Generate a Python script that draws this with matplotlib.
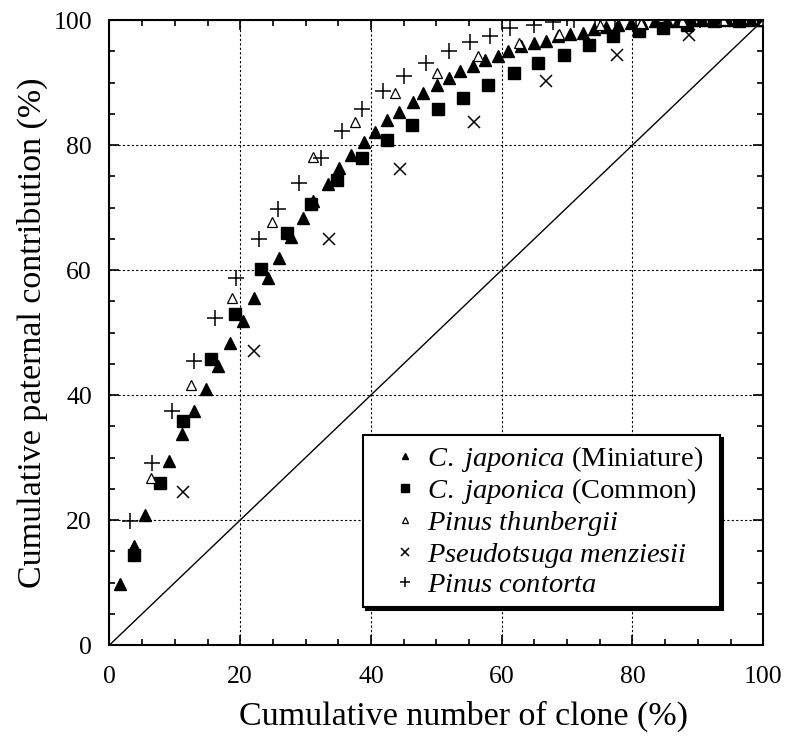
import matplotlib.pyplot as plt
from matplotlib.ticker import MultipleLocator

plt.rcParams['font.family'] = 'Liberation Serif'
plt.rcParams['mathtext.fontset'] = 'custom'
plt.rcParams['mathtext.rm'] = 'Liberation Serif'
plt.rcParams['mathtext.it'] = 'Liberation Serif:italic'

# C. japonica (Miniature)
mini_x = [1.6, 3.8, 5.5, 9.1, 11.1, 13.0, 14.7, 16.6, 18.4, 20.4, 22.1, 24.3, 25.9, 27.8,
          29.6, 31.2, 33.5, 35.1, 37.0, 39.0, 40.6, 42.5, 44.3, 46.4, 48.0, 50.1, 52.0,
          53.6, 55.6, 57.5, 59.4, 61.0, 62.9, 64.9, 66.7, 68.6, 70.4, 72.4, 74.1, 75.9,
          77.8, 79.7, 81.5, 83.5, 85.3, 87.0, 89.0, 90.7, 92.6, 94.4, 96.3, 98.1, 100.0]
mini_y = [9.7, 15.8, 20.8, 29.5, 33.7, 37.4, 41.0, 44.6, 48.3, 51.9, 55.5, 58.8, 62.0, 65.3,
          68.4, 71.0, 73.8, 76.4, 78.4, 80.5, 82.1, 84.0, 85.3, 86.9, 88.3, 89.6, 90.8,
          91.9, 92.7, 93.6, 94.2, 95.0, 95.8, 96.3, 96.7, 97.4, 97.8, 98.0, 98.6, 98.9,
          99.2, 99.5, 99.6, 99.8, 99.8, 99.9, 100, 100, 100, 100, 100, 100, 100]

# C. japonica (Common)
comm_x = [3.8, 7.7, 11.2, 15.6, 19.2, 23.2, 27.1, 30.8, 34.8, 38.6, 42.5, 46.2, 50.2,
          54.0, 57.9, 61.9, 65.6, 69.6, 73.3, 77.0, 81.0, 84.6, 88.4, 92.5, 96.3, 100.0]
comm_y = [14.4, 26.0, 35.8, 45.8, 53.0, 60.1, 66.0, 70.5, 74.4, 77.9, 80.8, 83.2, 85.7,
          87.5, 89.6, 91.5, 93.1, 94.4, 96.0, 97.4, 98.2, 98.8, 99.2, 99.8, 99.9, 100]

# Pinus thunbergii
thun_x = [6.4, 12.4, 18.7, 24.9, 31.1, 37.5, 43.7, 50.1, 56.3, 62.6, 68.8, 75.0, 81.3,
          87.5, 93.8, 100.0]
thun_y = [26.8, 41.6, 55.6, 67.7, 78.1, 83.7, 88.4, 91.5, 94.2, 96.3, 97.8, 99.2, 99.6,
          99.8, 100, 100]

# Pseudotsuga menziesii
menz_x = [11.3, 22.1, 33.6, 44.4, 55.7, 66.8, 77.7, 88.6, 100.0]
menz_y = [24.5, 47.0, 65.0, 76.1, 83.7, 90.2, 94.4, 97.6, 100]

# Pinus contorta
cont_x = [3.2, 6.5, 9.6, 13.0, 16.2, 19.4, 22.8, 25.8, 29.0, 32.4, 35.5, 38.7, 41.9,
          45.1, 48.4, 51.9, 55.1, 58.2, 61.3, 64.9, 67.9, 71.0, 74.3, 77.4, 80.6, 83.9,
          87.1, 90.3, 93.5, 96.8, 100.0]
cont_y = [19.9, 29.2, 37.5, 45.4, 52.4, 58.8, 64.9, 69.8, 73.9, 78.0, 82.2, 85.7, 88.7,
          91.1, 93.2, 95.0, 96.5, 97.5, 98.7, 99.2, 99.7, 100, 100, 100, 100, 100,
          100, 100, 100, 100, 100]

fig = plt.figure(figsize=(7.87, 7.36), dpi=100)
ax = fig.add_axes([0.1391, 0.1236, 0.8307, 0.8492])

ax.plot([0, 100], [0, 100], color='black', linewidth=1.0, zorder=1)

# trailing spaces on the first label widen the legend box a little on the right
ax.plot(mini_x, mini_y, linestyle='none', marker='^', markersize=8, color='black',
        label=r'$\mathit{C.}$ $\mathit{japonica}$ (Miniature)  ', zorder=3)
ax.plot(comm_x, comm_y, linestyle='none', marker='s', markersize=9, color='black',
        label=r'$\mathit{C.}$ $\mathit{japonica}$ (Common)', zorder=3)
ax.plot(thun_x, thun_y, linestyle='none', marker='^', markersize=7, markerfacecolor='white',
        markeredgecolor='black', markeredgewidth=0.9, label=r'$\mathit{Pinus\ thunbergii}$', zorder=4)
ax.plot(menz_x, menz_y, linestyle='none', marker='x', markersize=9, color='black',
        markeredgewidth=1.1, label=r'$\mathit{Pseudotsuga\ menziesii}$', zorder=4)
ax.plot(cont_x, cont_y, linestyle='none', marker='+', markersize=11, color='black',
        markeredgewidth=1.1, label=r'$\mathit{Pinus\ contorta}$', zorder=4)

ax.set_xlim(0, 100)
ax.set_ylim(0, 100)
ax.xaxis.set_major_locator(MultipleLocator(20))
ax.yaxis.set_major_locator(MultipleLocator(20))
ax.xaxis.set_minor_locator(MultipleLocator(5))
ax.yaxis.set_minor_locator(MultipleLocator(5))
ax.tick_params(which='both', direction='in', top=True, right=True, width=1.2)
ax.tick_params(which='major', length=7, labelsize=18.5)
ax.tick_params(which='minor', length=4)
ax.tick_params(axis='x', which='major', pad=15)
ax.tick_params(axis='y', which='major', pad=12.5)
ax.grid(True, which='major', linestyle=(0, (2, 2)), color='black', linewidth=0.8)
for s in ax.spines.values():
    s.set_linewidth(1.5)

ax.set_xlabel('Cumulative number of clone (%)', fontsize=24.5, labelpad=9.5, x=0.541)
ax.set_ylabel('Cumulative paternal contribution (%)', fontsize=24.5, labelpad=4)

leg = ax.legend(loc='upper left', bbox_to_anchor=(0.3877, 0.336), borderaxespad=0,
                fontsize=20.5, markerscale=0.6, handlelength=2.35, handletextpad=-0.4,
                labelspacing=0.095, borderpad=0.3, fancybox=False, framealpha=1,
                edgecolor='black', shadow={'color': 'black', 'alpha': 1})
leg.get_frame().set_linewidth(1.5)

plt.savefig('out.png', dpi=100)
